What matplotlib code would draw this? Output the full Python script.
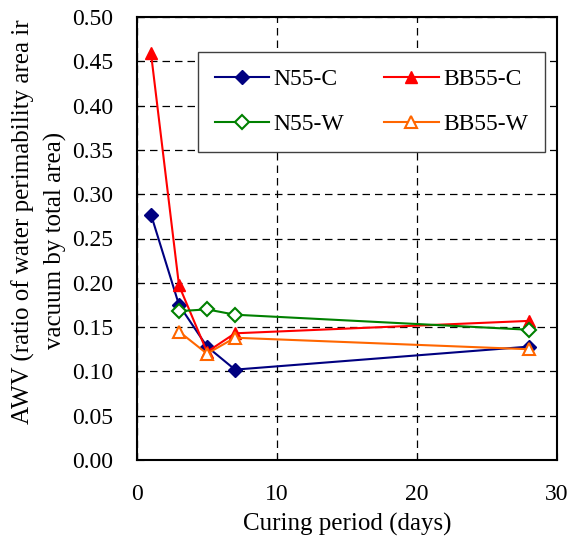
import matplotlib.pyplot as plt

days = [1, 3, 5, 7, 28]
n55_c = [0.277, 0.175, 0.128, 0.102, 0.128]
bb55_c = [0.459, 0.197, 0.122, 0.143, 0.157]
days_w = [3, 5, 7, 28]
n55_w = [0.168, 0.170, 0.164, 0.147]
bb55_w = [0.145, 0.120, 0.138, 0.125]

plt.rcParams['font.family'] = ['Liberation Serif', 'DejaVu Serif']

W, H = 571, 539
fig = plt.figure(figsize=(W / 100, H / 100), dpi=100)
ax = fig.add_axes([137 / W, 1 - 460 / H, 420 / W, 443 / H])

l1, = ax.plot(days, n55_c, color='#000080', marker='D', ms=7, lw=1.5, label='N55-C')
l2, = ax.plot(days, bb55_c, color='#FF0000', marker='^', ms=9, lw=1.5, label='BB55-C')
l3, = ax.plot(days_w, n55_w, color='#008000', marker='D', ms=7, lw=1.5,
              mfc='white', mew=1.5, label='N55-W')
l4, = ax.plot(days_w, bb55_w, color='#FF6600', marker='^', ms=9, lw=1.5,
              mfc='white', mew=1.5, label='BB55-W')

ax.set_xlim(0, 30)
ax.set_ylim(0, 0.5)
ax.set_xticks([0, 10, 20, 30])
ax.set_yticks([i * 0.05 for i in range(11)])
ax.set_yticklabels([f'{i * 0.05:.2f}' for i in range(11)])
ax.tick_params(axis='both', direction='in', labelsize=17, length=5)
ax.tick_params(axis='x', pad=17)
ax.tick_params(axis='y', pad=17)

ax.grid(True, color='black', ls=(0, (6, 4)), lw=0.9)
ax.set_axisbelow(True)
for s in ax.spines.values():
    s.set_linewidth(1.5)

ax.set_xlabel('Curing period (days)', fontsize=18, labelpad=6)

# y-axis title, two lines placed separately
fig.text(23 / W, 1 - 222 / H, 'AWV (ratio of water perimability area ir',
         rotation=90, fontsize=18, ha='center', va='center')
fig.text(55 / W, 1 - 240 / H, 'vacuum by total area)',
         rotation=90, fontsize=18, ha='center', va='center')

# two columns, row-wise: N55-C, BB55-C / N55-W, BB55-W
leg = ax.legend([l1, l3, l2, l4], ['N55-C', 'N55-W', 'BB55-C', 'BB55-W'],
                ncol=2, loc='upper left', bbox_to_anchor=(61 / 420, 408 / 443),
                borderaxespad=0, fontsize=17, frameon=True, fancybox=False,
                edgecolor='#404040', framealpha=1, columnspacing=1.7,
                handlelength=2.3, handletextpad=0.2, borderpad=0.7,
                labelspacing=1.0)
leg.get_frame().set_linewidth(1.0)

fig.savefig('out.png', dpi=100)
